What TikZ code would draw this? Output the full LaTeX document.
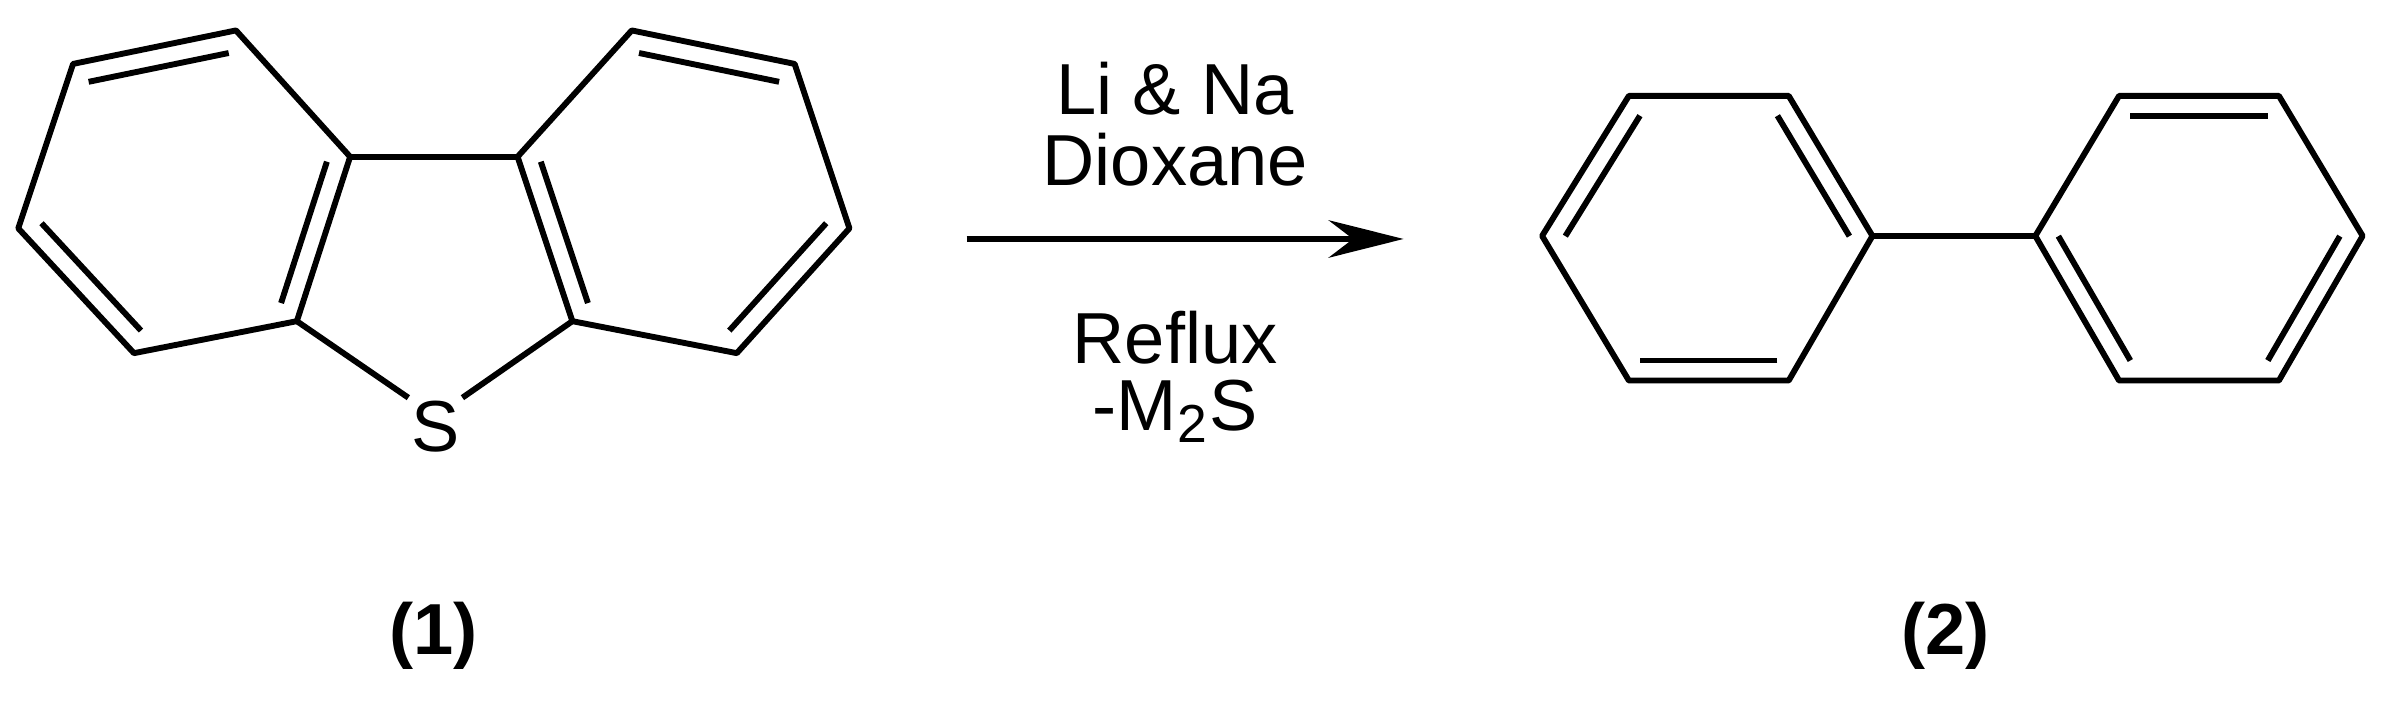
\documentclass[tikz,border=0pt]{standalone}
\usepackage{fontspec}
\setmainfont{Liberation Sans}
\usetikzlibrary{calc,arrows.meta}
\begin{document}
\begin{tikzpicture}[x=0.01cm,y=-0.01cm,line width=1.1pt,line join=round,
  lbl/.style={font=\fontsize{13.5}{15}\selectfont,inner sep=0pt},
  cmp/.style={font=\fontsize{13.5}{15}\selectfont\bfseries,inner sep=0pt}]
\useasboundingbox (0,0) rectangle (1568,462);
\newcommand{\inner}[3]{\draw ($(#1)!0.14!(#3)$) -- ($(#2)!0.14!(#3)$);}
% dibenzothiophene
\coordinate (a1) at (48,42); \coordinate (a2) at (155,20); \coordinate (a3) at (230,103);
\coordinate (a4) at (195,211); \coordinate (a5) at (88,232); \coordinate (a6) at (12,150);
\coordinate (b1) at (340,103); \coordinate (b2) at (415,20); \coordinate (b3) at (522,42);
\coordinate (b4) at (558,150); \coordinate (b5) at (484,232); \coordinate (b6) at (376,211);
\coordinate (ca) at (121,126); \coordinate (cb) at (449,126);
\node[lbl] (S) at (286,280) {S};
\draw (a1)--(a2)--(a3)--(a4)--(a5)--(a6)--cycle;
\draw (b1)--(b2)--(b3)--(b4)--(b5)--(b6)--cycle;
\draw (a3)--(b1);
\draw (a4)--(S.north west); \draw (b6)--(S.north east);
\inner{a1}{a2}{ca}\inner{a6}{a5}{ca}\inner{a3}{a4}{ca}
\inner{b2}{b3}{cb}\inner{b4}{b5}{cb}\inner{b1}{b6}{cb}
% arrow
\coordinate (r1) at (635,157); \coordinate (r2) at (922,157);
\draw[-{Stealth[length=14pt,width=7pt]}] (r1)--(r2);
\node[lbl] (t1) at (772,58) {Li \& Na};
\node[lbl] (t2) at (772,105) {Dioxane};
\node[lbl] (t3) at (772,222) {Reflux};
\node[lbl] (t4) at (772,270) {-M$_{\mbox{\fontsize{10}{10}\selectfont 2}}$S};
% biphenyl
\coordinate (c1) at (1013,155); \coordinate (c2) at (1070,63); \coordinate (c3) at (1175,63);
\coordinate (c4) at (1230,155); \coordinate (c5) at (1175,250); \coordinate (c6) at (1070,250);
\coordinate (d1) at (1337,155); \coordinate (d2) at (1392,63); \coordinate (d3) at (1497,63);
\coordinate (d4) at (1552,155); \coordinate (d5) at (1497,250); \coordinate (d6) at (1392,250);
\coordinate (cc) at (1122,156); \coordinate (cd) at (1445,156);
\draw (c1)--(c2)--(c3)--(c4)--(c5)--(c6)--cycle;
\draw (d1)--(d2)--(d3)--(d4)--(d5)--(d6)--cycle;
\draw (c4)--(d1);
\inner{c1}{c2}{cc}\inner{c3}{c4}{cc}\inner{c5}{c6}{cc}
\inner{d2}{d3}{cd}\inner{d4}{d5}{cd}\inner{d6}{d1}{cd}
\node[cmp] (n1) at (285,418) {(1)};
\node[cmp] (n2) at (1278,418) {(2)};
\end{tikzpicture}
\end{document}
